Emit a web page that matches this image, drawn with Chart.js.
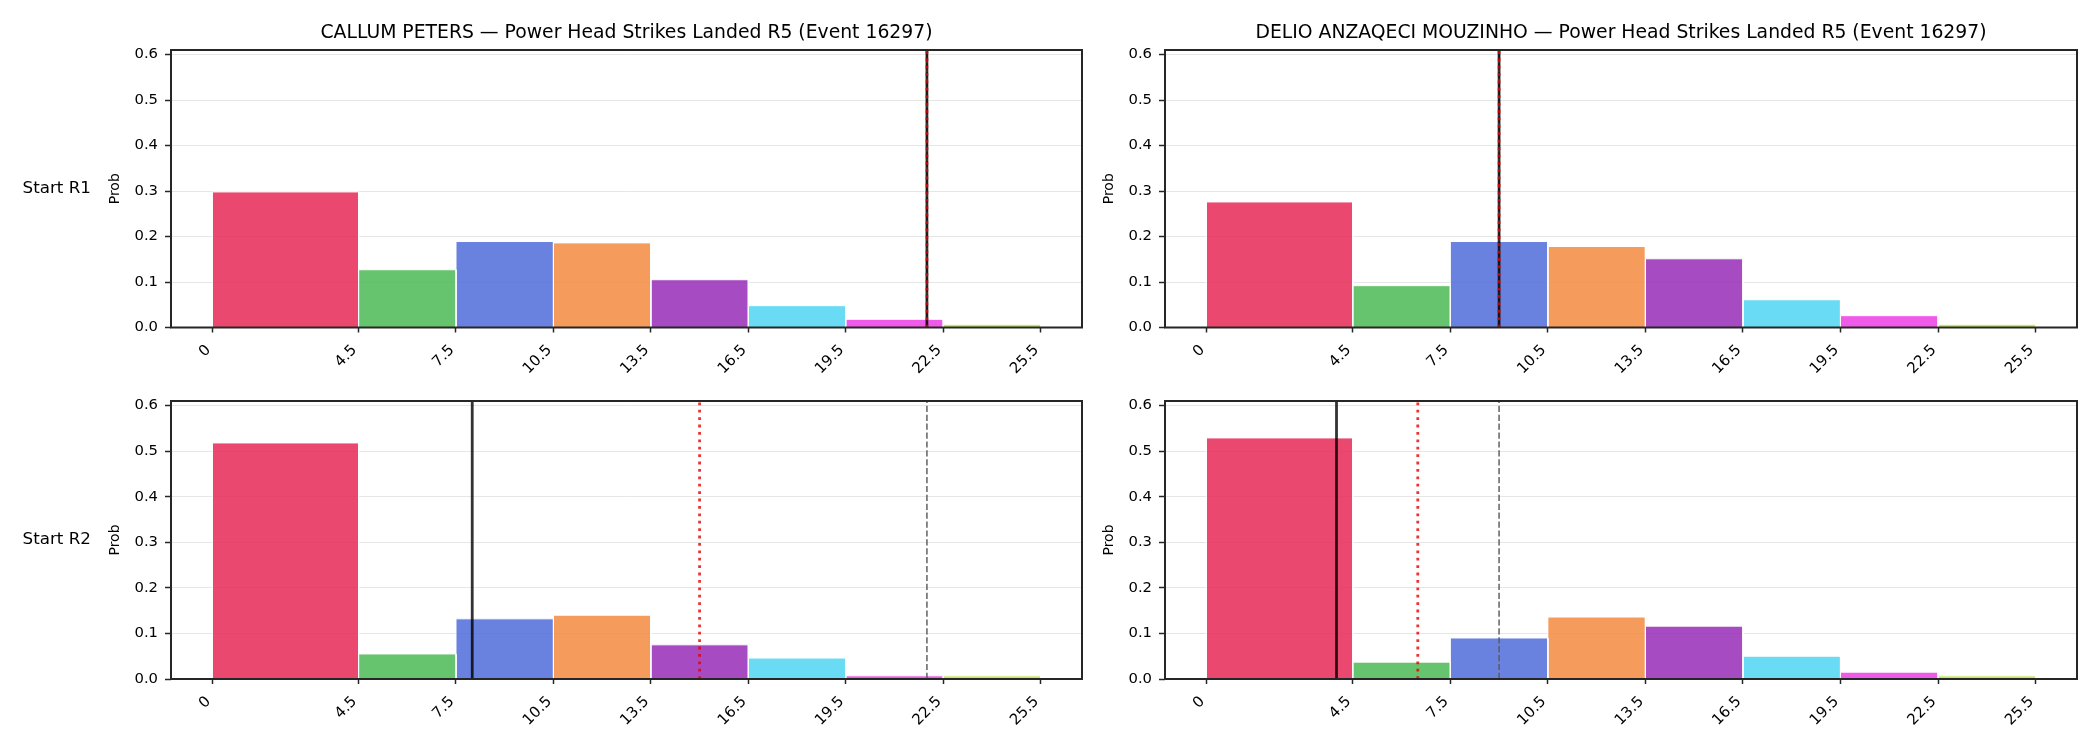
<!DOCTYPE html>
<html><head><meta charset="utf-8">
<script src="https://cdn.jsdelivr.net/npm/chart.js@4/dist/chart.umd.min.js"></script>
<style>
html,body{margin:0;padding:0;background:#fff;}
#wrap{position:relative;width:2100px;height:750px;overflow:hidden;background:#fff;}
canvas{position:absolute;}
</style></head><body><div id="wrap"></div>
<script>
// ---------------- data ----------------
const binEdges = [0, 4.5, 7.5, 10.5, 13.5, 16.5, 19.5, 22.5, 25.5];
const xTickLabels = ['0', '4.5', '7.5', '10.5', '13.5', '16.5', '19.5', '22.5', '25.5'];
const yTickValues = [0, 0.1, 0.2, 0.3, 0.4, 0.5, 0.6];
const yTickLabels = ['0.0', '0.1', '0.2', '0.3', '0.4', '0.5', '0.6'];
const fighters = ['CALLUM PETERS', 'DELIO ANZAQECI MOUZINHO'];
const titleSuffix = ' — Power Head Strikes Landed R5 (Event 16297)';
const rowLabels = ['Start R1', 'Start R2'];
const yAxisTitle = 'Prob';

const callumR1 = [0.298, 0.127, 0.189, 0.186, 0.105, 0.048, 0.018, 0.007];
const callumR2 = [0.518, 0.055, 0.132, 0.140, 0.075, 0.046, 0.007, 0.007];
const delioR1  = [0.276, 0.092, 0.189, 0.178, 0.151, 0.061, 0.026, 0.007];
const delioR2  = [0.529, 0.037, 0.090, 0.136, 0.116, 0.050, 0.015, 0.007];

// vertical reference lines: [Start R1, Start R2]
const callumSolid  = [22.0, 8.0];
const callumDotted = [22.0, 15.0];
const callumDashed = [22.0, 22.0];
const delioSolid   = [9.0, 4.0];
const delioDotted  = [9.0, 6.5];
const delioDashed  = [9.0, 9.0];

const yMax = 0.61;
const xMin = -1.275, xMax = 26.775;

// ---------------- styles ----------------
const binColors = [
  'rgba(231,40,87,0.85)', 'rgba(75,186,85,0.85)', 'rgba(80,108,217,0.85)',
  'rgba(243,137,62,0.85)', 'rgba(150,44,182,0.85)', 'rgba(79,213,242,0.85)',
  'rgba(237,61,228,0.85)', 'rgba(186,228,68,0.85)'
];
const FONT = '"DejaVu Sans", sans-serif';
Chart.defaults.font.family = FONT;
Chart.defaults.color = '#000';

const panels = [
  {row:0, col:0, probs: callumR1, solid: callumSolid[0], dotted: callumDotted[0], dashed: callumDashed[0], title: fighters[0] + titleSuffix},
  {row:0, col:1, probs: delioR1,  solid: delioSolid[0],  dotted: delioDotted[0],  dashed: delioDashed[0],  title: fighters[1] + titleSuffix},
  {row:1, col:0, probs: callumR2, solid: callumSolid[1], dotted: callumDotted[1], dashed: callumDashed[1], title: null},
  {row:1, col:1, probs: delioR2,  solid: delioSolid[1],  dotted: delioDotted[1],  dashed: delioDashed[1],  title: null},
];

const colGeom = [
  {left: 0, width: 1100, padLeft: 107.4, padRight: 18},
  {left: 1100, width: 1000, padLeft: 1.4, padRight: 23},
];
const rowGeom = [
  {top: 0, height: 375, padTop: 50, xHeight: 47.5},
  {top: 375, height: 375, padTop: 26, xHeight: 71},
];
const Y_WIDTH = 63.6;

const framePlugin = {
  id: 'frame',
  afterDatasetsDraw(chart) {
    const {ctx, chartArea: a} = chart;
    ctx.save();
    ctx.strokeStyle = '#262626';
    ctx.lineWidth = 2;
    ctx.strokeRect(a.left, a.top, a.right - a.left, a.bottom - a.top);
    ctx.restore();
  },
  afterDraw(chart) {
    const {ctx, chartArea: a} = chart;
    const o = chart.options.plugins.frame || {};
    ctx.save();
    ctx.fillStyle = '#000';
    if (o.title) {
      ctx.font = '18.8px ' + FONT;
      ctx.textAlign = 'center';
      ctx.textBaseline = 'alphabetic';
      ctx.fillText(o.title, (a.left + a.right) / 2, a.top - 12.5);
    }
    if (o.rowLabel) {
      ctx.font = '16.7px ' + FONT;
      ctx.textAlign = 'center';
      ctx.textBaseline = 'middle';
      ctx.fillText(o.rowLabel, 56.7, (a.top + a.bottom) / 2);
    }
    ctx.restore();
  }
};

const wrap = document.getElementById('wrap');
panels.forEach(p => {
  const cg = colGeom[p.col], rg = rowGeom[p.row];
  const cv = document.createElement('canvas');
  cv.width = cg.width; cv.height = rg.height;
  cv.style.left = cg.left + 'px'; cv.style.top = rg.top + 'px';
  cv.style.width = cg.width + 'px'; cv.style.height = rg.height + 'px';
  wrap.appendChild(cv);

  const datasets = [];
  p.probs.forEach((v, i) => {
    const x0 = binEdges[i], x1 = binEdges[i + 1];
    datasets.push({
      data: [{x: x0, y: 0}, {x: x0, y: v}, {x: x1, y: v}, {x: x1, y: 0}],
      backgroundColor: binColors[i],
      borderColor: '#ffffff',
      borderWidth: 1,
      fill: 'origin',
      pointRadius: 0,
      tension: 0,
      order: 10
    });
  });
  datasets.push({
    data: [{x: p.dashed, y: 0}, {x: p.dashed, y: yMax}],
    borderColor: 'rgba(90,90,90,0.85)', borderWidth: 1.7, borderDash: [6.2, 2.7],
    fill: false, pointRadius: 0, order: 3
  });
  datasets.push({
    data: [{x: p.solid, y: 0}, {x: p.solid, y: yMax}],
    borderColor: 'rgba(0,0,0,0.8)', borderWidth: 2.8,
    fill: false, pointRadius: 0, order: 2
  });
  datasets.push({
    data: [{x: p.dotted, y: 0}, {x: p.dotted, y: yMax}],
    borderColor: 'rgba(230,0,0,0.8)', borderWidth: 2.8, borderDash: [2.8, 4.6],
    borderCapStyle: 'butt',
    fill: false, pointRadius: 0, order: 1
  });

  new Chart(cv, {
    type: 'line',
    data: {datasets},
    plugins: [framePlugin],
    options: {
      responsive: false,
      animation: false,
      devicePixelRatio: 1,
      events: [],
      layout: {padding: {left: cg.padLeft, right: cg.padRight, top: rg.padTop, bottom: 0}},
      plugins: {
        legend: {display: false},
        tooltip: {enabled: false},
        title: {display: false},
        frame: {title: p.title, rowLabel: p.col === 0 ? rowLabels[p.row] : null}
      },
      scales: {
        x: {
          type: 'linear',
          min: xMin, max: xMax,
          afterBuildTicks: s => { s.ticks = binEdges.map(v => ({value: v})); },
          afterFit: s => { s.height = rg.xHeight; },
          ticks: {
            autoSkip: false, maxRotation: 45, minRotation: 45,
            padding: 9, labelOffset: -4,
            font: {size: 15, family: FONT}, color: '#000',
            callback: (v, i) => xTickLabels[i]
          },
          grid: {display: true, drawOnChartArea: false, drawTicks: true, tickLength: 5, tickColor: '#262626', tickWidth: 1.5},
          border: {display: false}
        },
        y: {
          type: 'linear',
          min: 0, max: yMax,
          afterBuildTicks: s => { s.ticks = yTickValues.map(v => ({value: v})); },
          afterFit: s => { s.width = Y_WIDTH; },
          ticks: {
            padding: 7,
            font: {size: 14.8, family: FONT}, color: '#000',
            callback: (v, i) => yTickLabels[i]
          },
          title: {display: true, text: yAxisTitle, font: {size: 14, family: FONT}, color: '#000', padding: {top: 0, bottom: 0}},
          grid: {display: true, color: '#e6e6e6', lineWidth: 1, drawTicks: true, tickLength: 6, tickColor: '#262626', tickWidth: 1.5},
          border: {display: false}
        }
      }
    }
  });
});
</script></body></html>
